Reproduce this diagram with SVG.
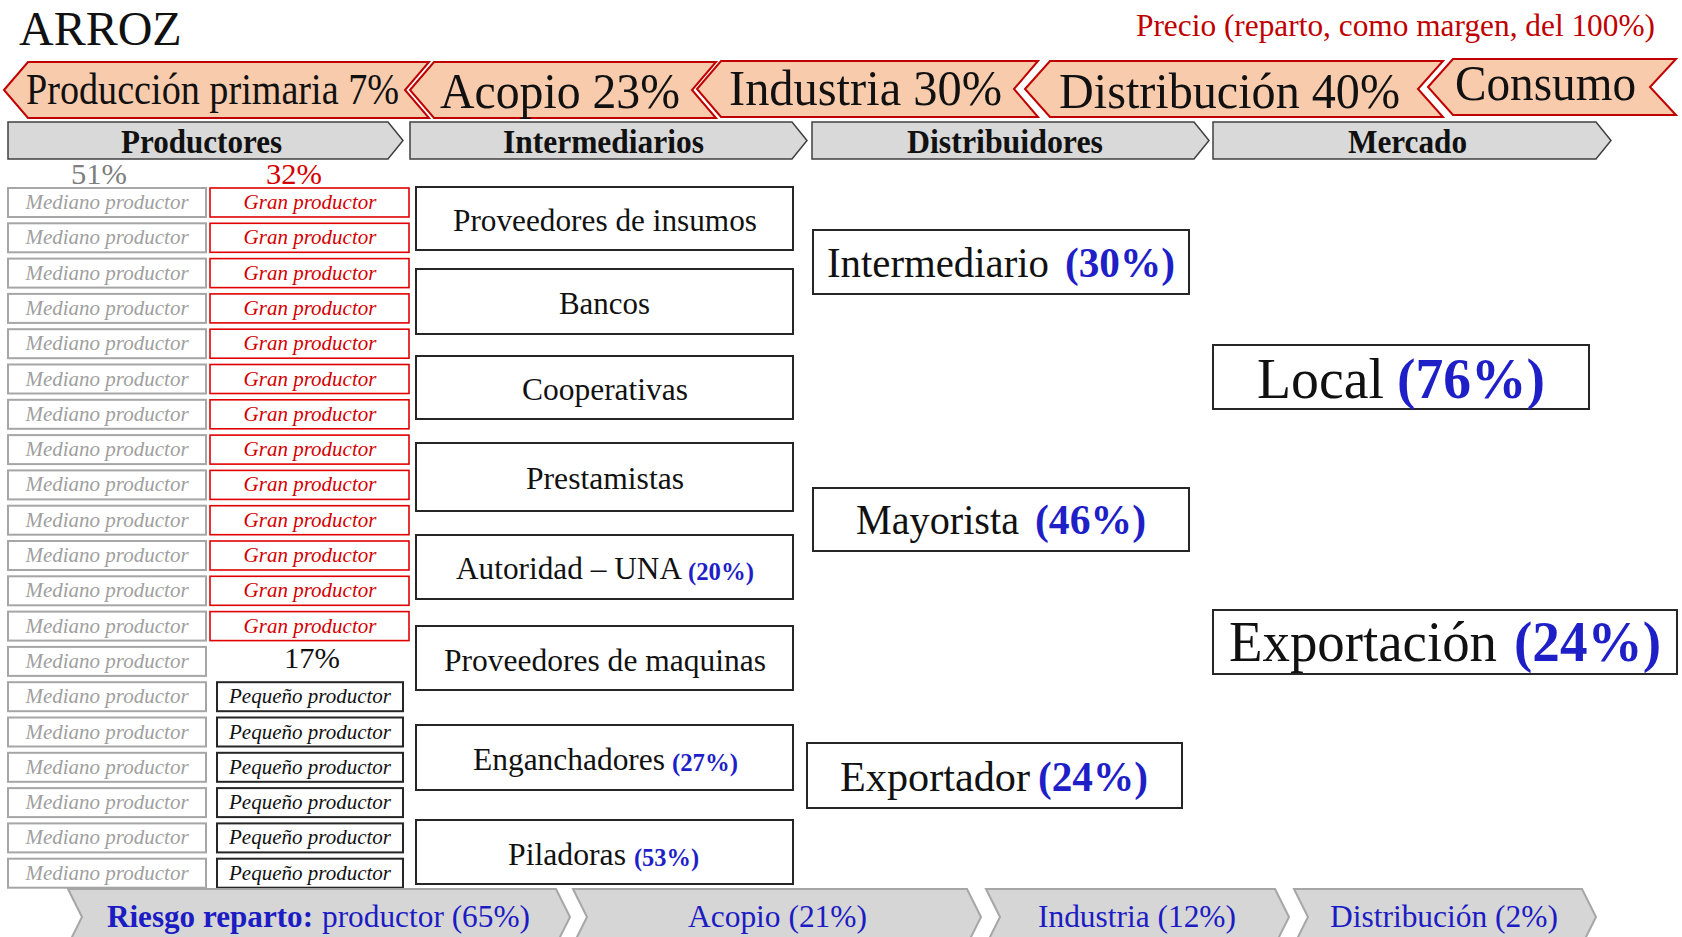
<svg xmlns="http://www.w3.org/2000/svg" width="1682" height="937" viewBox="0 0 1682 937">
<style>
text{font-family:"Liberation Serif","Times New Roman",serif;}
.rib{fill:#f8cbad;stroke:#c00000;stroke-width:2;stroke-linejoin:miter;}
.hdr{fill:#d9d9d9;stroke:#404040;stroke-width:1.5;}
.bot{fill:#d6d6d6;stroke:#a6a6a6;stroke-width:2;}
.box{fill:#ffffff;stroke:#262626;stroke-width:2;}
.med{fill:#ffffff;stroke:#a6a6a6;stroke-width:2;}
.gran{fill:#ffffff;stroke:#e00000;stroke-width:1.6;}
.peq{fill:#ffffff;stroke:#262626;stroke-width:2;}
.tmed{font-size:21px;font-style:italic;fill:#a0a0a0;text-anchor:middle;}
.tgran{font-size:21px;font-style:italic;fill:#d40000;text-anchor:middle;}
.tpeq{font-size:21px;font-style:italic;fill:#111111;text-anchor:middle;}
.tr{fill:#111111;}
.th{font-weight:bold;font-size:34px;fill:#111111;}
.ti{font-size:32px;fill:#111111;}
.bl{font-weight:bold;fill:#1f1fc8;}
.tb{font-size:31px;fill:#1c1cc4;}
</style>
<rect x="0" y="0" width="1682" height="937" fill="#ffffff"/>
<g id="title">
<text x="19" y="45" font-size="48" fill="#111111">ARROZ</text>
<text x="1136" y="36" font-size="32" fill="#c00000" textLength="519" lengthAdjust="spacingAndGlyphs">Precio (reparto, como margen, del 100%)</text>
</g>
<g id="ribbon-produccion">
<polygon class="rib" points="4,90 28,62 429,62 405,90 429,118 28,118"/>
<text class="tr" x="26" y="104" font-size="45" textLength="373" lengthAdjust="spacingAndGlyphs">Producción primaria 7%</text>
</g>
<g id="ribbon-acopio">
<polygon class="rib" points="410,90 434,62 716,62 692,90 716,118 434,118"/>
<text class="tr" x="440" y="108" font-size="50" textLength="240" lengthAdjust="spacingAndGlyphs">Acopio 23%</text>
</g>
<g id="ribbon-industria">
<polygon class="rib" points="697,89 721,61 1038,61 1014,89 1038,117 721,117"/>
<text class="tr" x="729" y="105" font-size="50" textLength="273" lengthAdjust="spacingAndGlyphs">Industria 30%</text>
</g>
<g id="ribbon-distribucion">
<polygon class="rib" points="1025,89 1050,61 1443,61 1418,89 1443,117 1050,117"/>
<text class="tr" x="1059" y="108" font-size="50" textLength="341" lengthAdjust="spacingAndGlyphs">Distribución 40%</text>
</g>
<g id="ribbon-consumo">
<polygon class="rib" points="1428,87 1453,59 1676,59 1650,87 1676,115 1453,115"/>
<text class="tr" x="1455" y="100" font-size="50" textLength="181" lengthAdjust="spacingAndGlyphs">Consumo</text>
</g>
<g id="hdr-productores">
<polygon class="hdr" points="8,122 388,122 403,140.5 388,159 8,159"/>
<text class="th" x="121" y="153" textLength="161" lengthAdjust="spacingAndGlyphs">Productores</text>
</g>
<g id="hdr-intermediarios">
<polygon class="hdr" points="410,122 792,122 807,140.5 792,159 410,159"/>
<text class="th" x="503" y="153" textLength="201" lengthAdjust="spacingAndGlyphs">Intermediarios</text>
</g>
<g id="hdr-distribuidores">
<polygon class="hdr" points="812,122 1194,122 1209,140.5 1194,159 812,159"/>
<text class="th" x="907" y="153" textLength="196" lengthAdjust="spacingAndGlyphs">Distribuidores</text>
</g>
<g id="hdr-mercado">
<polygon class="hdr" points="1213,122 1596,122 1611,140.5 1596,159 1213,159"/>
<text class="th" x="1348" y="153" textLength="119" lengthAdjust="spacingAndGlyphs">Mercado</text>
</g>
<g id="medianos">
<text x="71" y="184" font-size="30" fill="#7f7f7f" textLength="56" lengthAdjust="spacingAndGlyphs">51%</text>
<rect class="med" x="8" y="188" width="198" height="29"/><text class="tmed" x="107" y="209">Mediano productor</text>
<rect class="med" x="8" y="223.3" width="198" height="29"/><text class="tmed" x="107" y="244.3">Mediano productor</text>
<rect class="med" x="8" y="258.6" width="198" height="29"/><text class="tmed" x="107" y="279.6">Mediano productor</text>
<rect class="med" x="8" y="293.9" width="198" height="29"/><text class="tmed" x="107" y="314.9">Mediano productor</text>
<rect class="med" x="8" y="329.2" width="198" height="29"/><text class="tmed" x="107" y="350.2">Mediano productor</text>
<rect class="med" x="8" y="364.5" width="198" height="29"/><text class="tmed" x="107" y="385.5">Mediano productor</text>
<rect class="med" x="8" y="399.8" width="198" height="29"/><text class="tmed" x="107" y="420.8">Mediano productor</text>
<rect class="med" x="8" y="435.1" width="198" height="29"/><text class="tmed" x="107" y="456.1">Mediano productor</text>
<rect class="med" x="8" y="470.4" width="198" height="29"/><text class="tmed" x="107" y="491.4">Mediano productor</text>
<rect class="med" x="8" y="505.7" width="198" height="29"/><text class="tmed" x="107" y="526.7">Mediano productor</text>
<rect class="med" x="8" y="541" width="198" height="29"/><text class="tmed" x="107" y="562">Mediano productor</text>
<rect class="med" x="8" y="576.3" width="198" height="29"/><text class="tmed" x="107" y="597.3">Mediano productor</text>
<rect class="med" x="8" y="611.6" width="198" height="29"/><text class="tmed" x="107" y="632.6">Mediano productor</text>
<rect class="med" x="8" y="646.9" width="198" height="29"/><text class="tmed" x="107" y="667.9">Mediano productor</text>
<rect class="med" x="8" y="682.2" width="198" height="29"/><text class="tmed" x="107" y="703.2">Mediano productor</text>
<rect class="med" x="8" y="717.5" width="198" height="29"/><text class="tmed" x="107" y="738.5">Mediano productor</text>
<rect class="med" x="8" y="752.8" width="198" height="29"/><text class="tmed" x="107" y="773.8">Mediano productor</text>
<rect class="med" x="8" y="788.1" width="198" height="29"/><text class="tmed" x="107" y="809.1">Mediano productor</text>
<rect class="med" x="8" y="823.4" width="198" height="29"/><text class="tmed" x="107" y="844.4">Mediano productor</text>
<rect class="med" x="8" y="858.7" width="198" height="29"/><text class="tmed" x="107" y="879.7">Mediano productor</text>
</g>
<g id="grandes">
<text x="266" y="184" font-size="30" fill="#d40000" textLength="56" lengthAdjust="spacingAndGlyphs">32%</text>
<rect class="gran" x="210" y="188" width="199" height="29"/><text class="tgran" x="310" y="209">Gran productor</text>
<rect class="gran" x="210" y="223.3" width="199" height="29"/><text class="tgran" x="310" y="244.3">Gran productor</text>
<rect class="gran" x="210" y="258.6" width="199" height="29"/><text class="tgran" x="310" y="279.6">Gran productor</text>
<rect class="gran" x="210" y="293.9" width="199" height="29"/><text class="tgran" x="310" y="314.9">Gran productor</text>
<rect class="gran" x="210" y="329.2" width="199" height="29"/><text class="tgran" x="310" y="350.2">Gran productor</text>
<rect class="gran" x="210" y="364.5" width="199" height="29"/><text class="tgran" x="310" y="385.5">Gran productor</text>
<rect class="gran" x="210" y="399.8" width="199" height="29"/><text class="tgran" x="310" y="420.8">Gran productor</text>
<rect class="gran" x="210" y="435.1" width="199" height="29"/><text class="tgran" x="310" y="456.1">Gran productor</text>
<rect class="gran" x="210" y="470.4" width="199" height="29"/><text class="tgran" x="310" y="491.4">Gran productor</text>
<rect class="gran" x="210" y="505.7" width="199" height="29"/><text class="tgran" x="310" y="526.7">Gran productor</text>
<rect class="gran" x="210" y="541" width="199" height="29"/><text class="tgran" x="310" y="562">Gran productor</text>
<rect class="gran" x="210" y="576.3" width="199" height="29"/><text class="tgran" x="310" y="597.3">Gran productor</text>
<rect class="gran" x="210" y="611.6" width="199" height="29"/><text class="tgran" x="310" y="632.6">Gran productor</text>
</g>
<g id="pequenos">
<text x="284" y="668" font-size="30" fill="#111111" textLength="56" lengthAdjust="spacingAndGlyphs">17%</text>
<rect class="peq" x="217" y="682.2" width="186" height="29"/><text class="tpeq" x="310" y="703.2">Pequeño productor</text>
<rect class="peq" x="217" y="717.5" width="186" height="29"/><text class="tpeq" x="310" y="738.5">Pequeño productor</text>
<rect class="peq" x="217" y="752.8" width="186" height="29"/><text class="tpeq" x="310" y="773.8">Pequeño productor</text>
<rect class="peq" x="217" y="788.1" width="186" height="29"/><text class="tpeq" x="310" y="809.1">Pequeño productor</text>
<rect class="peq" x="217" y="823.4" width="186" height="29"/><text class="tpeq" x="310" y="844.4">Pequeño productor</text>
<rect class="peq" x="217" y="858.7" width="186" height="29"/><text class="tpeq" x="310" y="879.7">Pequeño productor</text>
</g>
<g id="int-insumos">
<rect class="box" x="416" y="187" width="377" height="63"/>
<text class="ti" x="453" y="231" textLength="304" lengthAdjust="spacingAndGlyphs">Proveedores de insumos</text>
</g>
<g id="int-bancos">
<rect class="box" x="416" y="269" width="377" height="65"/>
<text class="ti" x="559" y="314" textLength="91" lengthAdjust="spacingAndGlyphs">Bancos</text>
</g>
<g id="int-cooperativas">
<rect class="box" x="416" y="356" width="377" height="63"/>
<text class="ti" x="522" y="400" textLength="166" lengthAdjust="spacingAndGlyphs">Cooperativas</text>
</g>
<g id="int-prestamistas">
<rect class="box" x="416" y="443" width="377" height="68"/>
<text class="ti" x="526" y="489" textLength="158" lengthAdjust="spacingAndGlyphs">Prestamistas</text>
</g>
<g id="int-autoridad">
<rect class="box" x="416" y="535" width="377" height="64"/>
<text class="ti" x="456" y="579" textLength="226" lengthAdjust="spacingAndGlyphs">Autoridad – UNA</text>
<text class="bl" x="688" y="580" font-size="25" textLength="66" lengthAdjust="spacingAndGlyphs">(20%)</text>
</g>
<g id="int-maquinas">
<rect class="box" x="416" y="626" width="377" height="64"/>
<text class="ti" x="444" y="671" textLength="322" lengthAdjust="spacingAndGlyphs">Proveedores de maquinas</text>
</g>
<g id="int-enganchadores">
<rect class="box" x="416" y="725" width="377" height="65"/>
<text class="ti" x="473" y="770" textLength="192" lengthAdjust="spacingAndGlyphs">Enganchadores</text>
<text class="bl" x="672" y="771" font-size="25" textLength="66" lengthAdjust="spacingAndGlyphs">(27%)</text>
</g>
<g id="int-piladoras">
<rect class="box" x="416" y="820" width="377" height="64"/>
<text class="ti" x="508" y="865" textLength="118" lengthAdjust="spacingAndGlyphs">Piladoras</text>
<text class="bl" x="634" y="866" font-size="25" textLength="65" lengthAdjust="spacingAndGlyphs">(53%)</text>
</g>
<g id="dist-intermediario">
<rect class="box" x="813" y="230" width="376" height="64"/>
<text x="827" y="277" font-size="42" fill="#111111" textLength="222" lengthAdjust="spacingAndGlyphs">Intermediario</text>
<text class="bl" x="1065" y="277" font-size="42" textLength="110" lengthAdjust="spacingAndGlyphs">(30%)</text>
</g>
<g id="dist-mayorista">
<rect class="box" x="813" y="488" width="376" height="63"/>
<text x="856" y="534" font-size="42" fill="#111111" textLength="163" lengthAdjust="spacingAndGlyphs">Mayorista</text>
<text class="bl" x="1035" y="534" font-size="42" textLength="111" lengthAdjust="spacingAndGlyphs">(46%)</text>
</g>
<g id="dist-exportador">
<rect class="box" x="807" y="743" width="375" height="65"/>
<text x="840" y="791" font-size="42" fill="#111111" textLength="190" lengthAdjust="spacingAndGlyphs">Exportador</text>
<text class="bl" x="1038" y="791" font-size="42" textLength="110" lengthAdjust="spacingAndGlyphs">(24%)</text>
</g>
<g id="merc-local">
<rect class="box" x="1213" y="345" width="376" height="64"/>
<text x="1257" y="398" font-size="56" fill="#111111" textLength="127" lengthAdjust="spacingAndGlyphs">Local</text>
<text class="bl" x="1397" y="398" font-size="56" textLength="148" lengthAdjust="spacingAndGlyphs">(76%)</text>
</g>
<g id="merc-exportacion">
<rect class="box" x="1213" y="610" width="464" height="64"/>
<text x="1229" y="661" font-size="56" fill="#111111" textLength="268" lengthAdjust="spacingAndGlyphs">Exportación</text>
<text class="bl" x="1514" y="661" font-size="56" textLength="147" lengthAdjust="spacingAndGlyphs">(24%)</text>
</g>
<g id="riesgo-productor">
<polygon class="bot" points="68,889 556,889 570,917 556,945 68,945 82,917"/>
<text class="tb" x="107" y="927" font-weight="bold" textLength="206" lengthAdjust="spacingAndGlyphs">Riesgo reparto:</text>
<text class="tb" x="322" y="927" textLength="208" lengthAdjust="spacingAndGlyphs">productor (65%)</text>
</g>
<g id="riesgo-acopio">
<polygon class="bot" points="573,889 967,889 981,917 967,945 573,945 587,917"/>
<text class="tb" x="688" y="927" textLength="179" lengthAdjust="spacingAndGlyphs">Acopio (21%)</text>
</g>
<g id="riesgo-industria">
<polygon class="bot" points="986,889 1275,889 1289,917 1275,945 986,945 1000,917"/>
<text class="tb" x="1038" y="927" textLength="198" lengthAdjust="spacingAndGlyphs">Industria (12%)</text>
</g>
<g id="riesgo-distribucion">
<polygon class="bot" points="1294,889 1582,889 1596,917 1582,945 1294,945 1308,917"/>
<text class="tb" x="1330" y="927" textLength="228" lengthAdjust="spacingAndGlyphs">Distribución (2%)</text>
</g>
<g id="connectors"></g>
</svg>
